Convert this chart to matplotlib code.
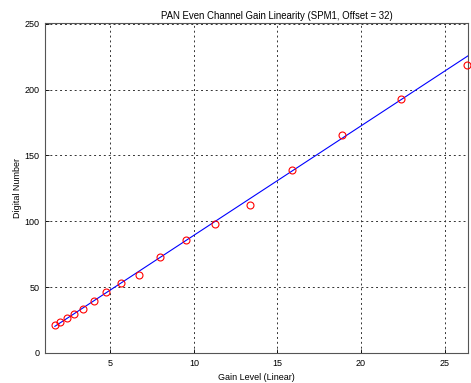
import matplotlib
matplotlib.use("Agg")
import matplotlib.pyplot as plt
import numpy as np

gain = [1.68, 1.98, 2.40, 2.83, 3.37, 4.02, 4.76, 5.66, 6.72, 7.99, 9.50,
        11.29, 13.36, 15.87, 18.88, 22.40, 26.33]
dn = [21.0, 23.8, 26.8, 29.8, 33.1, 39.4, 46.2, 53.0, 59.6, 72.7, 85.6,
      97.7, 112.5, 138.9, 165.2, 192.7, 218.5]
fit_slope = 8.31
fit_intercept = 6.3
xticks = [5, 10, 15, 20, 25]
yticks = [0, 50, 100, 150, 200, 250]

plt.rcParams['font.family'] = ['Liberation Sans', 'DejaVu Sans']
fig = plt.figure(figsize=(4.71, 3.83), dpi=100)
ax = fig.add_axes([45/471, 1-353/383, 423/471, (353-22.5)/383])

xmin, xmax = 1.09, 26.4
fx = np.array([gain[0], xmax])
ax.plot(fx, fit_slope*fx + fit_intercept, color='#0000ff', lw=0.8, zorder=3)
ax.plot(gain, dn, 'o', mfc='none', mec='#ff0000', ms=5, mew=0.8, zorder=4, clip_on=False)

ax.set_xlim(xmin, xmax)
ax.set_ylim(0, 251)
ax.set_xticks(xticks)
ax.set_yticks(yticks)
ax.grid(True, color='#333333', linestyle=(0, (2, 3)), lw=0.7)
ax.tick_params(direction='in', length=3, labelsize=6.5, width=0.6, pad=4)
for s in ax.spines.values():
    s.set_linewidth(0.8)
    s.set_color('#555555')

ax.set_xlabel('Gain Level (Linear)', fontsize=6.5, labelpad=4)
ax.set_ylabel('Digital Number', fontsize=6.5, labelpad=2)
fig.text(277/471, 1-16/383, 'PAN Even Channel Gain Linearity (SPM1, Offset = 32)',
         ha='center', va='center', fontsize=6.9)

fig.savefig('out.png', dpi=100)
